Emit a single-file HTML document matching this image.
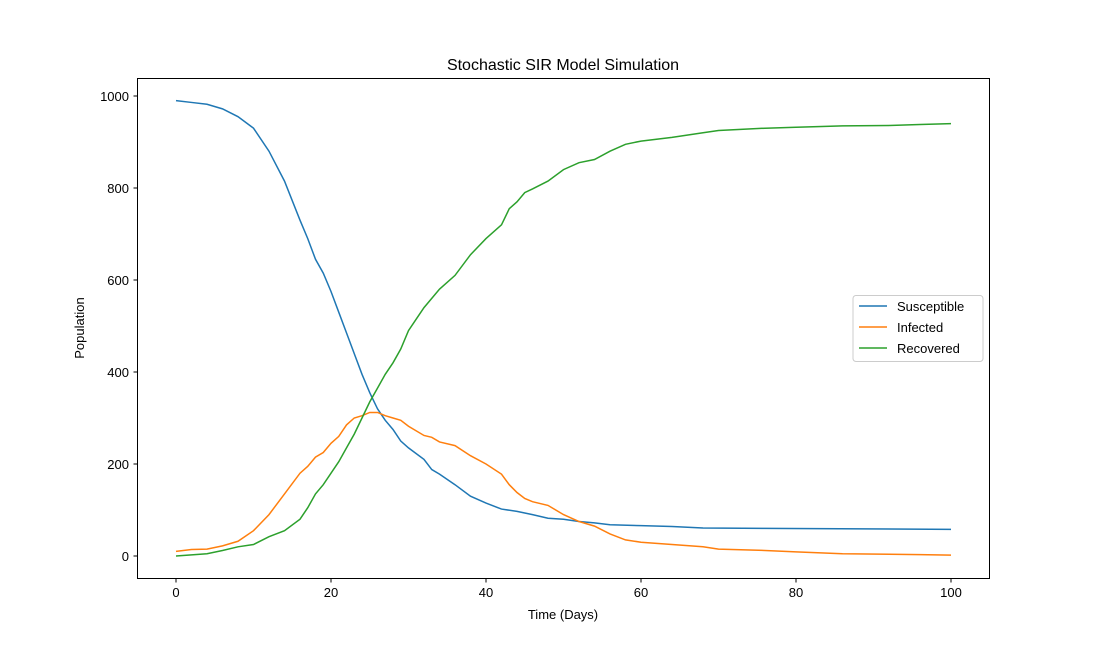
<!DOCTYPE html>
<html><head><meta charset="utf-8"><style>body{margin:0;background:#fff}svg{display:block;font-family:"Liberation Sans","DejaVu Sans",sans-serif}</style></head>
<body>
<svg id="chart" width="1100" height="650">
<rect width="1100" height="650" fill="#fff"/>
<text x="563" y="70" font-size="16" text-anchor="middle">Stochastic SIR Model Simulation</text>
<g id="plot"></g>
<rect x="137.5" y="78.5" width="852" height="500" fill="none" stroke="#000" stroke-width="1"/>
<text x="563" y="619" font-size="13" text-anchor="middle">Time (Days)</text>
<text x="84" y="328" font-size="13" text-anchor="middle" transform="rotate(-90 84 328)">Population</text>
<g>
<rect x="853" y="295.5" width="130" height="66" rx="3" fill="#fff" fill-opacity="0.8" stroke="#ccc"/>
<line x1="859" y1="306" x2="887" y2="306" stroke="#1f77b4" stroke-width="1.5"/><text x="897" y="311" font-size="13">Susceptible</text>
<line x1="859" y1="327" x2="887" y2="327" stroke="#ff7f0e" stroke-width="1.5"/><text x="897" y="332" font-size="13">Infected</text>
<line x1="859" y1="348" x2="887" y2="348" stroke="#2ca02c" stroke-width="1.5"/><text x="897" y="353" font-size="13">Recovered</text>
</g>
</svg>
<script>
const xTicks=[0,20,40,60,80,100];
const yTicks=[0,200,400,600,800,1000];
const sDays=[0,2,4,6,8,10,12,14,16,17,18,19,20,21,22,23,24,25,26,27,28,29,30,32,33,34,36,38,40,42,44,46,48,50,52,54,56,60,64,68,76,100];
const sVals=[990,986,982,972,955,930,880,815,730,690,645,615,575,530,485,440,395,355,320,295,275,250,235,210,188,178,155,130,115,102,97,90,82,80,75,72,68,66,64,61,60,58];
const iDays=[0,2,4,6,8,10,12,14,16,17,18,19,20,21,22,23,24,25,26,27,28,29,30,31,32,33,34,36,38,40,42,43,44,45,46,48,50,52,54,56,58,60,64,68,70,76,80,86,96,100];
const iVals=[10,14,15,22,32,55,90,135,180,195,215,225,245,260,285,300,305,312,312,305,300,295,282,272,262,258,248,240,218,200,178,155,138,125,118,110,90,75,65,48,35,30,25,20,15,12,9,5,3,2];
const rDays=[0,4,6,8,10,12,14,16,17,18,19,20,21,22,23,24,25,26,27,28,29,30,31,32,33,34,36,38,40,42,43,44,45,46,48,50,52,54,56,58,60,64,68,70,76,80,86,92,96,100];
const rVals=[0,5,12,20,25,42,55,80,105,135,155,180,205,235,265,300,335,365,395,420,450,490,515,540,560,580,610,655,690,720,755,770,790,798,815,840,855,862,880,895,902,910,920,925,930,932,935,936,938,940];
const X=d=>176+d*7.75, Y=v=>556-v*0.46;
const NS="http://www.w3.org/2000/svg", g=document.getElementById('plot');
function mk(t,a){const e=document.createElementNS(NS,t);for(const k in a)e.setAttribute(k,a[k]);g.appendChild(e);return e;}
xTicks.forEach(t=>{
 const l=mk('line',{x1:X(t),x2:X(t),y1:578.5,y2:582.5,stroke:'#000'});
 
 
 const tx=mk('text',{x:X(t),y:597,'font-size':13,'text-anchor':'middle'});tx.textContent=t;
 
 
});
yTicks.forEach(t=>{
 const l=mk('line',{x1:133.5,x2:137.5,y1:Y(t),y2:Y(t),stroke:'#000'});
 
 
 const tx=mk('text',{x:129,y:Y(t)+5,'font-size':13,'text-anchor':'end'});tx.textContent=t;
 
 
});
function line(ds,vs,c,n){
 const p=mk('polyline',{points:ds.map((d,i)=>X(d)+','+Y(vs[i])).join(' '),fill:'none',stroke:c,'stroke-width':1.5});
 
 
}
line(sDays,sVals,'#1f77b4','susceptible-line');
line(iDays,iVals,'#ff7f0e','infected-line');
line(rDays,rVals,'#2ca02c','recovered-line');
</script>
</body></html>
